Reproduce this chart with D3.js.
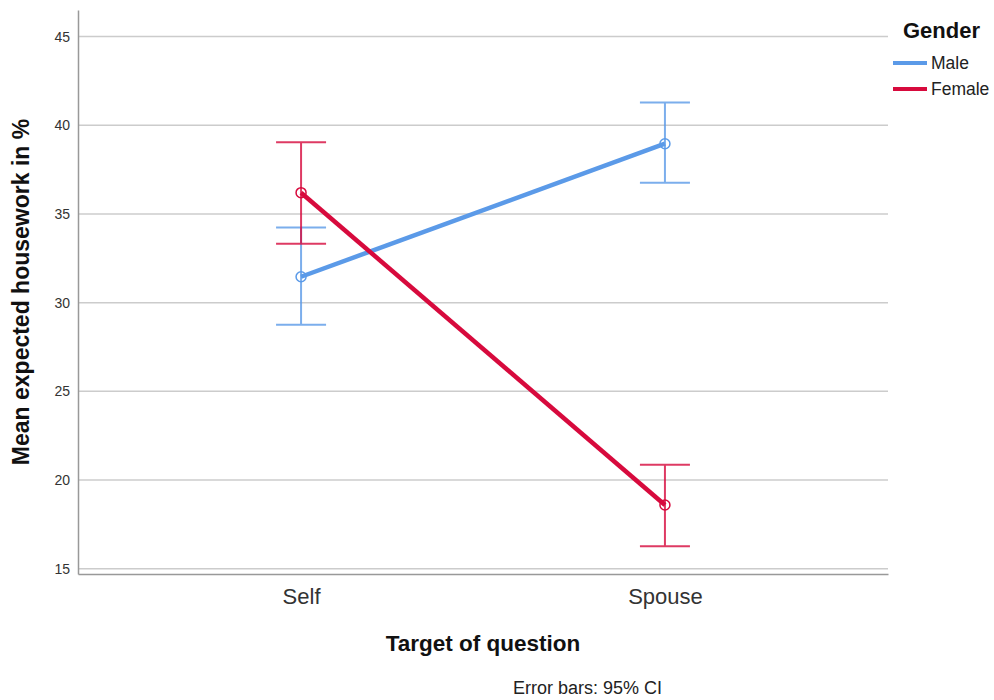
<!DOCTYPE html>
<html>
<head>
<meta charset="utf-8">
<script src="https://cdn.jsdelivr.net/npm/d3@7"></script>
<style>
  body { margin: 0; background: #fff; }
  text { font-family: "Liberation Sans", Arial, sans-serif; }
</style>
</head>
<body>
<div id="chart"></div>
<script>
const targets = ['Self', 'Spouse'];
const genders = ['Male', 'Female'];
const colors = ['#5b9ae8', '#d70a3d'];
const maleMean = [31.46, 38.96];
const maleLow = [28.75, 36.76];
const maleHigh = [34.24, 41.28];
const femaleMean = [36.2, 18.59];
const femaleLow = [33.32, 16.27];
const femaleHigh = [39.04, 20.86];
const yTicks = [15, 20, 25, 30, 35, 40, 45];

const width = 994, height = 700;
const margin = { top: 10, right: 106, bottom: 126, left: 78 };
const innerW = width - margin.left - margin.right;
const innerH = height - margin.top - margin.bottom;

const svg = d3.select('#chart').append('svg')
  .attr('width', width)
  .attr('height', height);

const g = svg.append('g')
  .attr('transform', `translate(${margin.left},${margin.top})`);

const x = d3.scalePoint().domain(targets).range([0, innerW]).padding(0.613);
const y = d3.scaleLinear().domain([14.7, 46.5]).range([innerH, 0]);

// gridlines
g.selectAll('line.grid')
  .data(yTicks)
  .enter()
  .append('line')
  .attr('class', 'grid')
  .attr('x1', 0)
  .attr('x2', innerW)
  .attr('y1', d => y(d))
  .attr('y2', d => y(d))
  .attr('stroke', '#cccccc')
  .attr('stroke-width', 1.5);

// y axis
const yAxis = g.append('g')
  .call(d3.axisLeft(y).tickValues(yTicks).tickSize(0).tickPadding(8));
yAxis.select('.domain').attr('stroke', '#999').attr('stroke-width', 1.5);
yAxis.selectAll('text').attr('font-size', 14).attr('fill', '#333');

// x axis
const xAxis = g.append('g')
  .attr('transform', `translate(0,${innerH})`)
  .call(d3.axisBottom(x).tickSize(0).tickPadding(14));
xAxis.select('.domain').attr('stroke', '#999').attr('stroke-width', 1.5);
xAxis.selectAll('text').attr('font-size', 22).attr('fill', '#333');

const series = [
  { name: genders[0], color: colors[0], mean: maleMean, low: maleLow, high: maleHigh },
  { name: genders[1], color: colors[1], mean: femaleMean, low: femaleLow, high: femaleHigh }
];

const capW = 25;
series.forEach(s => {
  const eb = g.append('g').attr('stroke', s.color).attr('stroke-width', 2).attr('opacity', 0.8);
  targets.forEach((t, i) => {
    eb.append('line')
      .attr('x1', x(t)).attr('x2', x(t))
      .attr('y1', y(s.low[i])).attr('y2', y(s.high[i]));
    eb.append('line')
      .attr('x1', x(t) - capW).attr('x2', x(t) + capW)
      .attr('y1', y(s.low[i])).attr('y2', y(s.low[i]));
    eb.append('line')
      .attr('x1', x(t) - capW).attr('x2', x(t) + capW)
      .attr('y1', y(s.high[i])).attr('y2', y(s.high[i]));
  });
});

series.forEach(s => {
  const line = d3.line()
    .x((d, i) => x(targets[i]))
    .y(d => y(d));
  g.append('path')
    .datum(s.mean)
    .attr('d', line)
    .attr('fill', 'none')
    .attr('stroke', s.color)
    .attr('stroke-width', 4.5);
  g.selectAll(null)
    .data(s.mean)
    .enter()
    .append('circle')
    .attr('cx', (d, i) => x(targets[i]))
    .attr('cy', d => y(d))
    .attr('r', 5)
    .attr('fill', 'none')
    .attr('stroke', s.color)
    .attr('stroke-width', 1.5);
});

// axis titles
svg.append('text')
  .attr('transform', `translate(29,${margin.top + innerH / 2}) rotate(-90)`)
  .attr('text-anchor', 'middle')
  .attr('font-size', 23)
  .attr('font-weight', 'bold')
  .attr('fill', '#111')
  .text('Mean expected housework in %');

svg.append('text')
  .attr('x', margin.left + innerW / 2)
  .attr('y', 651)
  .attr('text-anchor', 'middle')
  .attr('font-size', 22.5)
  .attr('font-weight', 'bold')
  .attr('fill', '#111')
  .text('Target of question');

svg.append('text')
  .attr('x', 513)
  .attr('y', 694)
  .attr('font-size', 18)
  .attr('fill', '#222')
  .text('Error bars: 95% CI');

// legend
const legend = svg.append('g').attr('transform', 'translate(893,0)');
legend.append('text')
  .attr('x', 10).attr('y', 38)
  .attr('font-size', 22)
  .attr('font-weight', 'bold')
  .attr('fill', '#111')
  .text('Gender');
series.forEach((s, i) => {
  const ly = 63 + i * 26;
  legend.append('line')
    .attr('x1', 0).attr('x2', 34)
    .attr('y1', ly).attr('y2', ly)
    .attr('stroke', s.color)
    .attr('stroke-width', 4);
  legend.append('text')
    .attr('x', 38).attr('y', ly + 6)
    .attr('font-size', 17.5)
    .attr('fill', '#222')
    .text(s.name);
});
</script>
</body>
</html>
